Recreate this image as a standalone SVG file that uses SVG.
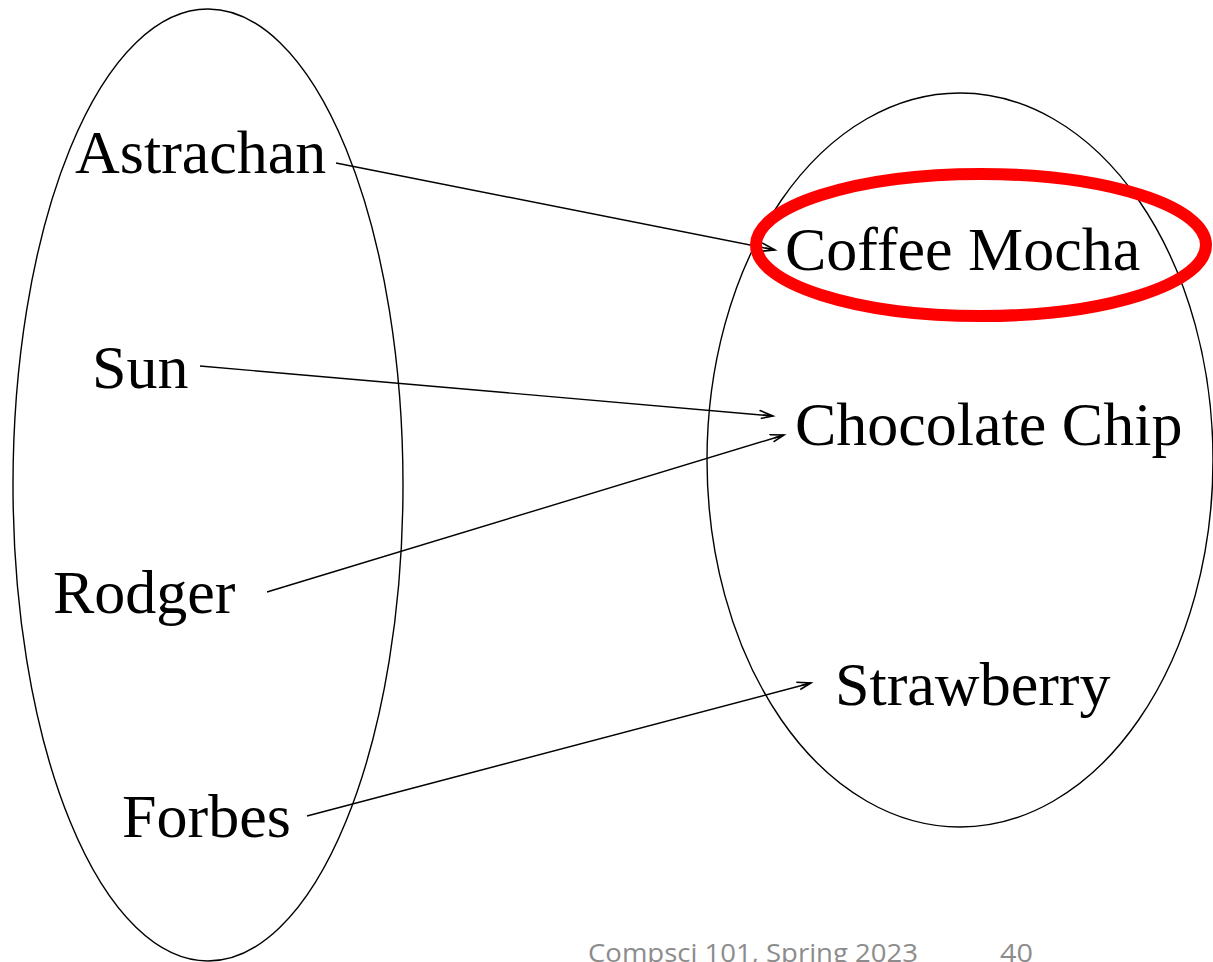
<svg xmlns="http://www.w3.org/2000/svg" width="1213" height="962" viewBox="0 0 1213 962">
<defs>
<style>
.set{fill:none;stroke:#000;stroke-width:1.4}
.lbl{font-family:"Liberation Serif","Times New Roman",serif;font-size:62px;fill:#000}
.edge{stroke:#000;stroke-width:1.4;fill:none;marker-end:url(#arr)}
.foot{font-family:"Open Sans","Liberation Sans",sans-serif;font-size:25px;fill:#8c8c8c}
</style>
<marker id="arr" markerUnits="userSpaceOnUse" markerWidth="20" markerHeight="12" refX="14" refY="6" orient="auto">
<path d="M0,1.5 L14,6 L2,9.5 M4,6 L14,6" fill="none" stroke="#000" stroke-width="1.6"/>
</marker>
</defs>
<rect width="1213" height="962" fill="#fff"/>
<g id="domain"><ellipse class="set" cx="208" cy="485" rx="195" ry="476"/></g>
<g id="range"><ellipse class="set" cx="960" cy="460" rx="253" ry="367"/></g>
<g id="connectors">
<line class="edge" x1="336" y1="163" x2="775" y2="250"/>
<line class="edge" x1="200" y1="366" x2="773" y2="416"/>
<line class="edge" x1="267" y1="592" x2="784" y2="435"/>
<line class="edge" x1="307" y1="816" x2="811" y2="683"/>
</g>
<g id="astrachan"><text class="lbl" x="75" y="173">Astrachan</text></g>
<g id="sun"><text class="lbl" x="92" y="388">Sun</text></g>
<g id="rodger"><text class="lbl" x="53" y="613">Rodger</text></g>
<g id="forbes"><text class="lbl" x="122" y="837">Forbes</text></g>
<g id="coffee-mocha"><text class="lbl" x="785" y="270">Coffee Mocha</text></g>
<g id="chocolate-chip"><text class="lbl" x="795" y="445">Chocolate Chip</text></g>
<g id="strawberry"><text class="lbl" x="835" y="705">Strawberry</text></g>
<g id="highlight"><ellipse cx="981" cy="245" rx="225" ry="71" fill="none" stroke="#f00" stroke-width="12"/></g>
<g id="footer">
<text class="foot" x="588" y="962" textLength="330" lengthAdjust="spacingAndGlyphs">Compsci 101, Spring 2023</text>
<text class="foot" x="1000" y="962" textLength="33" lengthAdjust="spacingAndGlyphs">40</text>
</g>
</svg>
